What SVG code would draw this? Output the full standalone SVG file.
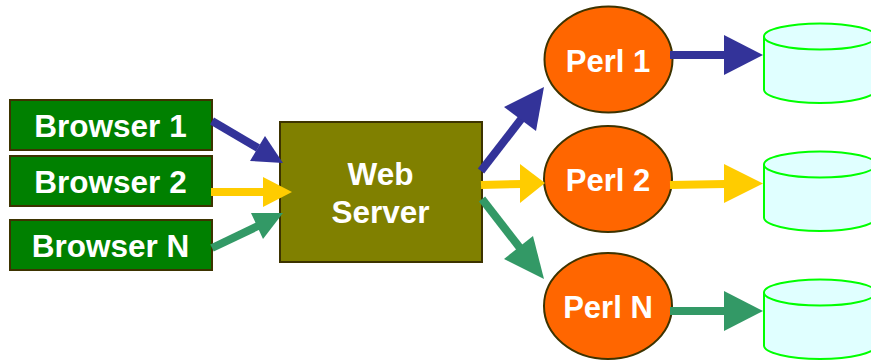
<svg xmlns="http://www.w3.org/2000/svg" width="871" height="362" viewBox="0 0 871 362">
<style>
text{font-family:"Liberation Sans",Arial,sans-serif;font-weight:bold;fill:#fff;font-size:31.500px;text-anchor:middle}
.pt{font-size:31px}
.box{stroke:#3d3300;stroke-width:2}
.br{fill:#008000}
.pl{fill:#ff6600}
.cyl{fill:#e0ffff;stroke:#00ff00;stroke-width:2}
.l{fill:none;stroke-width:8}
.b{stroke:#333399}.bf{fill:#333399}
.y{stroke:#ffcc00}.yf{fill:#ffcc00}
.g{stroke:#339966}.gf{fill:#339966}
</style>
<defs>
<g id="can">
<path class="cyl" d="M764 36.500V89.500C764 96.700 789 103 820 103S876 96.700 876 89.500V36.500"/>
<ellipse class="cyl" cx="820" cy="36.500" rx="56" ry="13"/>
</g>
</defs>
<g id="browser1"><rect class="box br" x="10" y="100" width="202" height="50"/><text x="110.500" y="137">Browser 1</text></g>
<g id="browser2"><rect class="box br" x="10" y="156" width="202" height="50"/><text x="110.500" y="193">Browser 2</text></g>
<g id="browserN"><rect class="box br" x="10" y="220" width="202" height="50"/><text x="110.500" y="257">Browser N</text></g>
<g id="webserver"><rect class="box" fill="#808000" x="280" y="122" width="202" height="140"/><text x="380.500" y="185">Web</text><text x="380.500" y="223">Server</text></g>
<g id="perl1"><ellipse class="box pl" cx="608.500" cy="59.500" rx="64" ry="53"/><text class="pt" x="608" y="72">Perl 1</text></g>
<g id="perl2"><ellipse class="box pl" cx="608" cy="179" rx="64" ry="53"/><text class="pt" x="608" y="191">Perl 2</text></g>
<g id="perlN"><ellipse class="box pl" cx="608" cy="306" rx="64" ry="53"/><text class="pt" x="608" y="318">Perl N</text></g>
<g id="db1"><use href="#can"/></g>
<g id="db2"><use href="#can" y="128"/></g>
<g id="db3"><use href="#can" y="256"/></g>
<g id="connectors">
<path class="l b" d="M212 121L258 148"/><polygon class="bf" points="283,163 250,161 265,136"/>
<path class="l y" d="M211 192H264"/><polygon class="yf" points="292,192 263,177 263,207"/>
<path class="l g" d="M212 248L258 226"/><polygon class="gf" points="283,213 251,213 263,239"/>
<path class="l b" d="M481 171L522 118"/><polygon class="bf" points="544,87 504,107 536,131"/>
<path class="l y" d="M481 185L522 184"/><polygon class="yf" points="545,183 520,164 520,203"/>
<path class="l g" d="M482 199L520 248"/><polygon class="gf" points="544,279 533,236 504,259"/>
<path class="l b" d="M670 55H725"/><polygon class="bf" points="763,55 724,35 724,75"/>
<path class="l y" d="M670 185L725 184"/><polygon class="yf" points="763,183.500 724,164 724,203"/>
<path class="l g" d="M670 311H725"/><polygon class="gf" points="763,311 724,291 724,331"/>
</g>
</svg>
